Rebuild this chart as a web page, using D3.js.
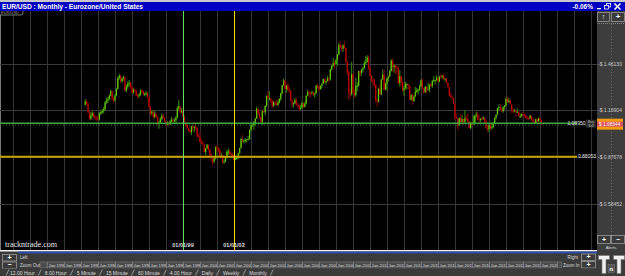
<!DOCTYPE html>
<html lang="en">
<head>
<meta charset="UTF-8">
<title>EUR/USD : Monthly</title>
<script src="https://d3js.org/d3.v7.min.js"></script>
<style>
    body { margin: 0; background: #3b3b3b; overflow: hidden; }
    svg { display: block; font-family: "Liberation Sans", Arial, sans-serif; }
</style>
</head>
<body>
<svg id="chart" width="625" height="276"></svg>
<script>
// monthly bars, the first one is April 1993 (open = previous close)
const firstYear = 1993, firstMonthIdx = 3;
const firstOpen = 1.205;

const closes = [
    1.225, 1.212, 1.160, 1.118, 1.140, 1.152, 1.128, 1.120, 1.118,
    1.112, 1.150, 1.160, 1.165, 1.175, 1.220, 1.232, 1.240, 1.262, 1.290, 1.240, 1.232,
    1.262, 1.305, 1.372, 1.385, 1.352, 1.368, 1.375, 1.292, 1.318, 1.338, 1.342, 1.316,
    1.282, 1.298, 1.292, 1.262, 1.258, 1.268, 1.292, 1.290, 1.268, 1.272, 1.278, 1.255,
    1.190, 1.152, 1.162, 1.128, 1.148, 1.130, 1.085, 1.092, 1.115, 1.135, 1.122, 1.100,
    1.082, 1.090, 1.083, 1.102, 1.112, 1.102, 1.108, 1.125, 1.182, 1.195, 1.158, 1.168,
    1.130, 1.098, 1.077, 1.058, 1.042, 1.035, 1.070, 1.062, 1.068, 1.060, 1.008, 1.005,
    0.970, 0.965, 0.958, 0.910, 0.932, 0.955, 0.925, 0.885, 0.880, 0.850, 0.870, 0.940,
    0.935, 0.922, 0.878, 0.888, 0.845, 0.850, 0.875, 0.912, 0.912, 0.900, 0.892, 0.890,
    0.860, 0.870, 0.872, 0.902, 0.935, 0.990, 0.980, 0.982, 0.986, 0.990, 0.990, 1.048,
    1.075, 1.078, 1.090, 1.118, 1.180, 1.150, 1.125, 1.098, 1.165, 1.158, 1.198, 1.260,
    1.245, 1.245, 1.230, 1.198, 1.220, 1.218, 1.202, 1.218, 1.242, 1.276, 1.328, 1.356,
    1.304, 1.325, 1.296, 1.288, 1.230, 1.210, 1.212, 1.234, 1.205, 1.199, 1.180, 1.185,
    1.215, 1.192, 1.212, 1.262, 1.282, 1.279, 1.277, 1.281, 1.268, 1.276, 1.325, 1.320,
    1.302, 1.323, 1.335, 1.365, 1.345, 1.353, 1.370, 1.364, 1.425, 1.448, 1.464, 1.459,
    1.484, 1.519, 1.579, 1.561, 1.555, 1.575, 1.560, 1.468, 1.408, 1.273, 1.270, 1.397,
    1.280, 1.266, 1.325, 1.325, 1.415, 1.404, 1.425, 1.435, 1.464, 1.472, 1.500, 1.433,
    1.386, 1.362, 1.351, 1.329, 1.229, 1.223, 1.305, 1.268, 1.363, 1.394, 1.299, 1.338,
    1.370, 1.380, 1.416, 1.481, 1.439, 1.450, 1.439, 1.438, 1.340, 1.385, 1.345, 1.295,
    1.308, 1.334, 1.334, 1.323, 1.236, 1.266, 1.230, 1.258, 1.286, 1.296, 1.299, 1.319,
    1.358, 1.306, 1.282, 1.317, 1.300, 1.301, 1.330, 1.322, 1.352, 1.358, 1.359, 1.375,
    1.349, 1.380, 1.377, 1.387, 1.363, 1.369, 1.339, 1.313, 1.263, 1.252, 1.245, 1.210,
    1.129, 1.120, 1.073, 1.122, 1.099, 1.115, 1.098, 1.121, 1.117, 1.100, 1.059, 1.086,
    1.083, 1.087, 1.138, 1.145, 1.113, 1.110, 1.117, 1.116, 1.124, 1.098, 1.059, 1.052,
    1.080, 1.057, 1.065, 1.090, 1.124, 1.143, 1.184, 1.191, 1.181, 1.164, 1.190, 1.200,
    1.241, 1.219, 1.232, 1.208, 1.169, 1.168, 1.169, 1.160, 1.161, 1.131, 1.132, 1.147,
    1.145, 1.137, 1.122, 1.121, 1.117, 1.137, 1.107, 1.098, 1.090, 1.115, 1.102, 1.121,
    1.109, 1.083
];
const highs = [
    1.240, 1.238, 1.220, 1.168, 1.158, 1.165, 1.160, 1.140, 1.138,
    1.135, 1.158, 1.168, 1.178, 1.190, 1.228, 1.250, 1.252, 1.270, 1.300, 1.292, 1.255,
    1.272, 1.310, 1.382, 1.398, 1.392, 1.378, 1.388, 1.380, 1.330, 1.352, 1.360, 1.348,
    1.322, 1.310, 1.305, 1.300, 1.275, 1.278, 1.302, 1.302, 1.295, 1.282, 1.292, 1.285,
    1.262, 1.200, 1.172, 1.165, 1.168, 1.158, 1.135, 1.105, 1.128, 1.152, 1.148, 1.130,
    1.108, 1.102, 1.100, 1.112, 1.128, 1.118, 1.120, 1.135, 1.195, 1.235, 1.195, 1.185,
    1.188, 1.138, 1.100, 1.085, 1.068, 1.052, 1.075, 1.082, 1.072, 1.090, 1.062, 1.025,
    1.035, 0.985, 0.980, 0.962, 0.935, 0.960, 0.955, 0.930, 0.905, 0.880, 0.872, 0.945,
    0.956, 0.940, 0.932, 0.905, 0.895, 0.865, 0.880, 0.920, 0.932, 0.925, 0.910, 0.905,
    0.893, 0.880, 0.885, 0.905, 0.936, 1.000, 1.018, 0.990, 0.996, 0.991, 1.010, 1.050,
    1.090, 1.092, 1.103, 1.123, 1.193, 1.180, 1.162, 1.130, 1.167, 1.180, 1.200, 1.262,
    1.290, 1.290, 1.245, 1.236, 1.229, 1.228, 1.238, 1.232, 1.245, 1.280, 1.330, 1.367,
    1.360, 1.330, 1.349, 1.317, 1.296, 1.237, 1.222, 1.249, 1.248, 1.218, 1.212, 1.204,
    1.229, 1.216, 1.224, 1.262, 1.298, 1.295, 1.285, 1.293, 1.289, 1.282, 1.329, 1.336,
    1.324, 1.325, 1.339, 1.368, 1.368, 1.353, 1.386, 1.375, 1.427, 1.452, 1.497, 1.477,
    1.489, 1.522, 1.591, 1.601, 1.578, 1.585, 1.604, 1.561, 1.478, 1.420, 1.300, 1.472,
    1.400, 1.300, 1.374, 1.345, 1.418, 1.418, 1.429, 1.440, 1.482, 1.508, 1.514, 1.513,
    1.446, 1.390, 1.372, 1.370, 1.334, 1.243, 1.311, 1.333, 1.364, 1.426, 1.425, 1.344,
    1.375, 1.386, 1.425, 1.488, 1.494, 1.458, 1.455, 1.450, 1.440, 1.422, 1.382, 1.355,
    1.323, 1.349, 1.339, 1.330, 1.325, 1.269, 1.274, 1.264, 1.317, 1.310, 1.302, 1.331,
    1.365, 1.371, 1.310, 1.321, 1.318, 1.342, 1.334, 1.345, 1.361, 1.383, 1.361, 1.389,
    1.374, 1.384, 1.397, 1.389, 1.399, 1.370, 1.370, 1.344, 1.319, 1.285, 1.262, 1.250,
    1.212, 1.148, 1.122, 1.125, 1.147, 1.139, 1.113, 1.171, 1.139, 1.150, 1.103, 1.100,
    1.098, 1.139, 1.140, 1.162, 1.162, 1.143, 1.123, 1.136, 1.132, 1.125, 1.111, 1.080,
    1.083, 1.083, 1.091, 1.096, 1.127, 1.145, 1.184, 1.207, 1.209, 1.188, 1.196, 1.203,
    1.254, 1.256, 1.248, 1.240, 1.208, 1.185, 1.179, 1.173, 1.182, 1.162, 1.150, 1.151,
    1.158, 1.149, 1.145, 1.133, 1.127, 1.141, 1.128, 1.125, 1.108, 1.118, 1.118, 1.124,
    1.124, 1.110
];
const lows = [
    1.198, 1.200, 1.150, 1.110, 1.108, 1.130, 1.120, 1.108, 1.105,
    1.100, 1.105, 1.140, 1.148, 1.150, 1.170, 1.210, 1.215, 1.232, 1.255, 1.232, 1.212,
    1.225, 1.258, 1.300, 1.360, 1.340, 1.342, 1.355, 1.288, 1.282, 1.305, 1.318, 1.305,
    1.275, 1.270, 1.280, 1.258, 1.245, 1.250, 1.262, 1.282, 1.262, 1.258, 1.262, 1.245,
    1.182, 1.135, 1.140, 1.120, 1.118, 1.125, 1.075, 1.055, 1.085, 1.105, 1.110, 1.095,
    1.070, 1.075, 1.072, 1.078, 1.095, 1.092, 1.095, 1.090, 1.120, 1.168, 1.150, 1.150,
    1.128, 1.092, 1.065, 1.055, 1.040, 1.026, 1.015, 1.042, 1.035, 1.045, 1.002, 0.998,
    0.968, 0.958, 0.951, 0.905, 0.888, 0.928, 0.912, 0.877, 0.845, 0.823, 0.840, 0.862,
    0.905, 0.907, 0.872, 0.876, 0.842, 0.836, 0.844, 0.870, 0.890, 0.892, 0.875, 0.877,
    0.857, 0.857, 0.860, 0.866, 0.895, 0.931, 0.966, 0.963, 0.967, 0.970, 0.983, 0.986,
    1.036, 1.066, 1.050, 1.072, 1.117, 1.140, 1.118, 1.085, 1.078, 1.155, 1.140, 1.191,
    1.240, 1.235, 1.212, 1.180, 1.190, 1.200, 1.201, 1.200, 1.213, 1.228, 1.270, 1.323,
    1.300, 1.280, 1.288, 1.280, 1.229, 1.193, 1.187, 1.211, 1.201, 1.189, 1.164, 1.169,
    1.181, 1.188, 1.187, 1.206, 1.258, 1.250, 1.251, 1.269, 1.260, 1.249, 1.275, 1.306,
    1.285, 1.299, 1.306, 1.334, 1.341, 1.330, 1.350, 1.338, 1.355, 1.418, 1.443, 1.427,
    1.455, 1.448, 1.513, 1.551, 1.534, 1.535, 1.553, 1.465, 1.389, 1.233, 1.246, 1.262,
    1.277, 1.247, 1.255, 1.289, 1.317, 1.380, 1.385, 1.406, 1.427, 1.454, 1.469, 1.421,
    1.385, 1.343, 1.327, 1.313, 1.219, 1.188, 1.220, 1.266, 1.264, 1.359, 1.297, 1.300,
    1.289, 1.350, 1.383, 1.413, 1.410, 1.405, 1.394, 1.401, 1.335, 1.318, 1.320, 1.286,
    1.262, 1.303, 1.299, 1.300, 1.235, 1.229, 1.204, 1.221, 1.251, 1.279, 1.269, 1.292,
    1.317, 1.301, 1.275, 1.281, 1.275, 1.299, 1.282, 1.317, 1.310, 1.348, 1.332, 1.353,
    1.348, 1.345, 1.369, 1.368, 1.360, 1.350, 1.338, 1.314, 1.256, 1.250, 1.236, 1.209,
    1.110, 1.119, 1.046, 1.071, 1.081, 1.089, 1.078, 1.086, 1.109, 1.090, 1.057, 1.052,
    1.071, 1.084, 1.081, 1.124, 1.109, 1.091, 1.095, 1.108, 1.112, 1.092, 1.053, 1.035,
    1.034, 1.049, 1.052, 1.058, 1.087, 1.112, 1.140, 1.170, 1.172, 1.157, 1.155, 1.173,
    1.195, 1.215, 1.221, 1.208, 1.151, 1.151, 1.157, 1.130, 1.155, 1.130, 1.122, 1.127,
    1.127, 1.123, 1.118, 1.111, 1.111, 1.116, 1.107, 1.093, 1.088, 1.088, 1.098, 1.098,
    1.097, 1.078
];

const priceTicks = [0.58452, 0.87678, 1.16904, 1.46130];
const gridYears = [1989, 1990, 1991, 1992, 1993, 1994, 1995, 1996, 1997, 1998, 1999, 2000,
    2001, 2002, 2003, 2004, 2005, 2006, 2007, 2008, 2009, 2010, 2011, 2012, 2013, 2014,
    2015, 2016, 2017, 2018, 2019, 2020, 2021, 2022, 2023];
const timeCells = ["1991", "1992", "1993", "1994", "1995", "1996", "1997", "1998",
    "1999", "2000", "2001", "2002", "2003", "2004", "2005", "2006", "2007", "2008", "2009",
    "2010", "2011", "2012", "2013", "2014", "2015", "2016", "2017", "2018", "2019", "2020"];
const vMarkers = [{ year: 1999, label: "01/01/99", color: "#5fe05a" },
                  { year: 2002, label: "01/01/02", color: "#ffe000" }];
const greenLevel = 1.08950, greenLabel = "1.08950";
const yellowLevel = 0.88053, yellowLabel = "0.88053";
const lastPrice = 1.08344;
const tabs = ["12.00 Hour", "8.00 Hour", "5 Minute", "15 Minute", "60 Minute",
    "4.00 Hour", "Daily", "Weekly", "Monthly"];

const svg = d3.select("#chart");
const plotRight = 597, plotTop = 11, plotBottom = 250;

const x = d3.scaleLinear().domain([1999, 2002]).range([183, 234]);
const y = d3.scaleLinear().domain([0.58452, 1.46130]).range([204, 63.7]);

// chart background
svg.append("rect").attr("x", 0).attr("y", 0).attr("width", 625).attr("height", 276).attr("fill", "#3b3b3b");
svg.append("rect").attr("x", 0).attr("y", plotTop).attr("width", plotRight).attr("height", plotBottom - plotTop).attr("fill", "#000");
svg.append("line").attr("x1", 0.5).attr("x2", 0.5).attr("y1", plotTop).attr("y2", plotBottom).attr("stroke", "#777");

// grid
svg.append("g").selectAll("line").data(gridYears).join("line")
    .attr("x1", d => Math.round(x(d)) + 0.5).attr("x2", d => Math.round(x(d)) + 0.5)
    .attr("y1", plotTop).attr("y2", plotBottom)
    .attr("stroke", "#363636");
svg.append("g").selectAll("line").data(priceTicks).join("line")
    .attr("x1", 0).attr("x2", plotRight)
    .attr("y1", d => Math.round(y(d)) + 0.5).attr("y2", d => Math.round(y(d)) + 0.5)
    .attr("stroke", "#3a3a3a");

// bars
const bars = closes.map((c, i) => ({
    t: firstYear + (firstMonthIdx + i) / 12,
    open: i ? closes[i - 1] : firstOpen,
    close: c, high: highs[i], low: lows[i]
}));
const barG = svg.append("g");
barG.selectAll("rect.wick").data(bars).join("rect")
    .attr("class", "wick")
    .attr("x", d => x(d.t) - 0.6).attr("width", 1.2)
    .attr("y", d => y(d.high)).attr("height", d => y(d.low) - y(d.high))
    .attr("fill", d => d.close >= d.open ? "#2f7a00" : "#6e0000");
barG.selectAll("rect.body").data(bars).join("rect")
    .attr("class", "body")
    .attr("x", d => x(d.t) - 0.6).attr("width", 1.2)
    .attr("y", d => y(Math.max(d.open, d.close)))
    .attr("height", d => Math.max(1, Math.abs(y(d.open) - y(d.close))))
    .attr("fill", d => d.close >= d.open ? "#66c800" : "#c00000");

// last price dotted line
svg.append("line").attr("x1", 0).attr("x2", plotRight)
    .attr("y1", y(lastPrice) + 1).attr("y2", y(lastPrice) + 1)
    .attr("stroke", "#2f6a2f").attr("stroke-dasharray", "1,2");

// horizontal user lines
svg.append("line").attr("x1", 0).attr("x2", 577)
    .attr("y1", y(greenLevel)).attr("y2", y(greenLevel))
    .attr("stroke", "#3ea83e").attr("stroke-width", 1.5);
svg.append("line").attr("x1", 0).attr("x2", 577)
    .attr("y1", y(yellowLevel)).attr("y2", y(yellowLevel))
    .attr("stroke", "#c9a400").attr("stroke-width", 2);

// vertical date lines
const vm = svg.append("g").selectAll("g").data(vMarkers).join("g");
vm.append("line")
    .attr("x1", d => Math.round(x(d.year)) + 0.5).attr("x2", d => Math.round(x(d.year)) + 0.5)
    .attr("y1", plotTop).attr("y2", plotBottom)
    .attr("stroke", d => d.color);
vm.append("text")
    .attr("x", d => x(d.year)).attr("y", 246.5)
    .attr("text-anchor", "middle").attr("font-size", 5.5).attr("font-weight", "bold")
    .attr("fill", "#ddd").text(d => d.label);

// watermark
svg.append("text").attr("x", 5).attr("y", 246.5)
    .attr("font-family", "'Liberation Serif', serif").attr("font-size", 8)
    .attr("textLength", 52).attr("lengthAdjust", "spacingAndGlyphs")
    .attr("fill", "#e8e8e8").text("trackntrade.com");

// symbol tab top-left
svg.append("rect").attr("x", -3).attr("y", 9.5).attr("width", 26).attr("height", 5.5).attr("rx", 2)
    .attr("fill", "#000").attr("stroke", "#aaa").attr("stroke-width", 0.7);
svg.append("text").attr("x", 1).attr("y", 13.5).attr("font-size", 4).attr("fill", "#999").text("EUR/USD");

// price axis panel
svg.append("rect").attr("x", plotRight).attr("y", plotTop).attr("width", 625 - plotRight).attr("height", plotBottom - plotTop + 1).attr("fill", "#3d3d3d");
svg.append("line").attr("x1", 611.5).attr("x2", 611.5).attr("y1", 24).attr("y2", 235)
    .attr("stroke", "#666").attr("stroke-dasharray", "1,2");
svg.append("line").attr("x1", plotRight).attr("x2", 625).attr("y1", 23.5).attr("y2", 23.5)
    .attr("stroke", "#888").attr("stroke-dasharray", "1,1");

svg.append("g").selectAll("text").data(priceTicks).join("text")
    .attr("x", plotRight + 1).attr("y", d => y(d) + 1.8)
    .attr("font-size", 5).attr("fill", "#ccc")
    .text(d => "-$ " + d.toFixed(5));

// user line labels
svg.append("text").attr("x", 596).attr("y", y(yellowLevel) + 1.8).attr("text-anchor", "end")
    .attr("font-size", 5).attr("fill", "#e0e0e0").text(yellowLabel);
svg.append("text").attr("x", 585.5).attr("y", y(greenLevel) + 1.8).attr("text-anchor", "end")
    .attr("font-size", 5).attr("fill", "#e0e0e0").text(greenLabel);
svg.append("rect").attr("x", 586).attr("y", y(greenLevel) - 3.5).attr("width", 10).attr("height", 8).attr("fill", "#2a2a2a");
svg.append("text").attr("x", 591).attr("y", y(greenLevel) - 0.2).attr("text-anchor", "middle")
    .attr("font-size", 3.4).attr("fill", "#bbb").text("Buy");
svg.append("text").attr("x", 591).attr("y", y(greenLevel) + 4.0).attr("text-anchor", "middle")
    .attr("font-size", 3.4).attr("fill", "#bbb").text("Sell");

// last price box
const ly = y(lastPrice);
svg.append("rect").attr("x", plotRight).attr("y", ly - 5.5).attr("width", 26).attr("height", 11).attr("fill", "#f29a10");
svg.append("rect").attr("x", plotRight).attr("y", ly - 2.5).attr("width", 26).attr("height", 5).attr("fill", "#d9515e");
svg.append("text").attr("x", plotRight + 2).attr("y", ly + 1.7).attr("font-size", 4.8).attr("fill", "#fff")
    .text("$ " + lastPrice.toFixed(5));

// small square buttons
function button(bx, by, w, h, glyph, size) {
    svg.append("rect").attr("x", bx + 0.5).attr("y", by + 0.5).attr("width", w).attr("height", h)
        .attr("fill", "#3a3a3a").attr("stroke", "#9a9a9a").attr("stroke-width", 0.8);
    svg.append("text").attr("x", bx + w / 2 + 0.5).attr("y", by + h / 2 + size * 0.36)
        .attr("text-anchor", "middle").attr("font-size", size).attr("font-weight", "bold")
        .attr("fill", "#fff").text(glyph);
}
button(597, 12, 12, 9, "↑", 7);
button(611, 12, 13, 9, "+", 8);
button(597, 235, 13, 8, "+", 7);
button(611, 235, 13, 8, "−", 7);
svg.append("text").attr("x", 611).attr("y", 249).attr("text-anchor", "middle")
    .attr("font-size", 4.2).attr("fill", "#ddd").text("Alerts");

// title bar
svg.append("rect").attr("x", 0).attr("y", 0).attr("width", 625).attr("height", 2).attr("fill", "#c8c8c8");
svg.append("rect").attr("x", 0).attr("y", 2).attr("width", 625).attr("height", 9).attr("fill", "#0000c4");
svg.append("text").attr("x", 2).attr("y", 8.8).attr("font-size", 7).attr("font-weight", "bold")
    .attr("textLength", 141).attr("lengthAdjust", "spacingAndGlyphs")
    .attr("fill", "#fff").text("EUR/USD : Monthly  -  Eurozone/United States");
svg.append("text").attr("x", 593).attr("y", 8.8).attr("text-anchor", "end").attr("font-size", 6.5)
    .attr("font-weight", "bold").attr("fill", "#fff").text("-0.06%");
svg.append("rect").attr("x", 597).attr("y", 8).attr("width", 4).attr("height", 1.3).attr("fill", "#fff");
svg.append("rect").attr("x", 606.5).attr("y", 3.5).attr("width", 4).attr("height", 3.5).attr("fill", "none").attr("stroke", "#fff").attr("stroke-width", 0.8);
svg.append("rect").attr("x", 604.5).attr("y", 5.5).attr("width", 4).attr("height", 3.5).attr("fill", "#0000c4").attr("stroke", "#fff").attr("stroke-width", 0.8);
svg.append("path").attr("d", "M614.5,3.5 L620.5,9.5 M620.5,3.5 L614.5,9.5").attr("stroke", "#fff").attr("stroke-width", 1.6);

// bottom navigation strip
svg.append("rect").attr("x", 0).attr("y", 250).attr("width", plotRight).attr("height", 1.5).attr("fill", "#f2f2f2");
svg.append("rect").attr("x", 18).attr("y", 251.5).attr("width", plotRight - 18).attr("height", 2).attr("fill", "#2a4aa8");

const cellG = svg.append("g");
timeCells.forEach(yr => {
    const cx = Math.round(x(+yr)) + 0.5;
    const cw = Math.round(x(+yr + 1)) - Math.round(x(+yr));
    cellG.append("rect").attr("x", cx).attr("y", 262).attr("width", cw).attr("height", 6)
        .attr("fill", "#4a4a4a").attr("stroke", "#8a8a8a").attr("stroke-width", 0.5);
    cellG.append("text").attr("x", cx + 1).attr("y", 266.6).attr("font-size", 4.3)
        .attr("fill", "#ddd").text("Jan " + yr);
});
svg.append("rect").attr("x", 40).attr("y", 262).attr("width", 7).attr("height", 6)
    .attr("fill", "#4a4a4a").attr("stroke", "#8a8a8a").attr("stroke-width", 0.5);
svg.append("text").attr("x", 20).attr("y", 266.6).attr("font-size", 4.5).attr("fill", "#ddd").text("Zoom Out");
svg.append("rect").attr("x", 557.5).attr("y", 262).attr("width", 4).attr("height", 6)
    .attr("fill", "#4a4a4a").attr("stroke", "#8a8a8a").attr("stroke-width", 0.5);
svg.append("text").attr("x", 563).attr("y", 266.6).attr("font-size", 4.5).attr("fill", "#ddd").text("Zoom In");
svg.append("text").attr("x", 20).attr("y", 258.8).attr("font-size", 4.5).attr("fill", "#ddd").text("Left");
svg.append("text").attr("x", 578).attr("y", 258.8).attr("text-anchor", "end").attr("font-size", 4.5).attr("fill", "#ddd").text("Right");

button(2, 254, 14, 6.5, "+", 7);
button(2, 261.5, 14, 6.5, "−", 7);
button(581, 253.5, 14, 6.5, "+", 7);
button(581, 261, 14, 6.5, "+", 7);

// timeframe tabs
svg.append("rect").attr("x", 0).attr("y", 268.5).attr("width", 625).attr("height", 7.5).attr("fill", "#3b3b3b");
let tx = 10;
tabs.forEach(name => {
    const t = svg.append("text").attr("x", tx).attr("y", 274.6).attr("font-size", 5)
        .attr("fill", "#ddd").text(name);
    const w = t.node().getComputedTextLength();
    const sx = tx + w + 5;
    svg.append("line").attr("x1", sx - 1.5).attr("x2", sx + 1.5).attr("y1", 275.5).attr("y2", 269.5)
        .attr("stroke", "#bbb").attr("stroke-width", 0.7);
    tx = sx + 5;
});
svg.append("line").attr("x1", 6).attr("x2", 9).attr("y1", 275.5).attr("y2", 269.5)
    .attr("stroke", "#bbb").attr("stroke-width", 0.7);

// TnT logo
const logo = svg.append("g").attr("fill", "#f0f0f0").attr("stroke", "#777").attr("stroke-width", 0.6);
logo.append("path").attr("d", "M598.5,255.5 h11 v4 h-3.5 v14 h-4 v-14 h-3.5 z");
logo.append("path").attr("d", "M613.5,255.5 h11 v4 h-3.5 v14 h-4 v-14 h-3.5 z");
logo.append("rect").attr("x", 608).attr("y", 264.5).attr("width", 6.5).attr("height", 8).attr("fill", "#555");
svg.append("text").attr("x", 611.3).attr("y", 271).attr("text-anchor", "middle").attr("font-size", 6)
    .attr("font-weight", "bold").attr("fill", "#fff").text("n");
</script>
</body>
</html>
